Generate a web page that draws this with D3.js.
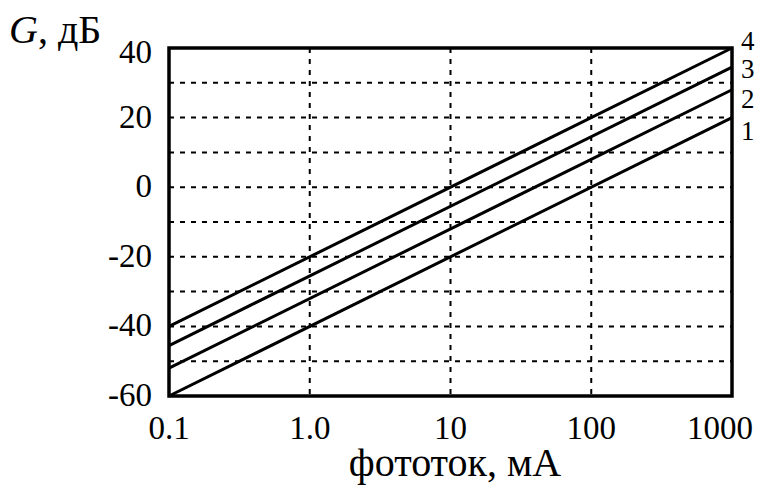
<!DOCTYPE html>
<html>
<head>
<meta charset="UTF-8">
<title>G vs photocurrent</title>
<script src="https://cdn.jsdelivr.net/npm/d3@7"></script>
<style>
body { margin: 0; background: #fff; }
text { font-family: "Liberation Serif", "DejaVu Serif", serif; fill: #000; }
</style>
</head>
<body>
<script>
// data
var xTicks = [0.1, 1, 10, 100, 1000];
var xTickLabels = ["0.1", "1.0", "10", "100", "1000"];
var yTicks = [40, 20, 0, -20, -40, -60];
var yGrid = [30, 20, 10, 0, -10, -20, -30, -40, -50];
var seriesNames = ["1", "2", "3", "4"];
var seriesX = [0.1, 1000];
var series1 = [-60, 20];
var series2 = [-52, 28];
var series3 = [-45.5, 34.5];
var series4 = [-40, 40];

var margin = { top: 48, right: 27, bottom: 91, left: 169 };
var W = 759, H = 487;
var size = { width: W - margin.left - margin.right, height: H - margin.top - margin.bottom };

var svg = d3.select("body").append("svg")
  .attr("width", W).attr("height", H);
var g = svg.append("g")
  .attr("transform", "translate(" + margin.left + "," + margin.top + ")");

var xScale = d3.scaleLog().domain([0.1, 1000]).range([0, size.width]);
var yScale = d3.scaleLinear().domain([-60, 40]).range([size.height, 0]);

// grid
g.selectAll(".hgrid").data(yGrid).enter().append("line")
  .attr("x1", 0).attr("x2", size.width)
  .attr("y1", function(d) { return yScale(d); })
  .attr("y2", function(d) { return yScale(d); })
  .attr("stroke", "#000").attr("stroke-width", 2)
  .attr("stroke-dasharray", "5,6");
g.selectAll(".vgrid").data(xTicks.slice(1, -1)).enter().append("line")
  .attr("y1", 0).attr("y2", size.height)
  .attr("x1", function(d) { return xScale(d); })
  .attr("x2", function(d) { return xScale(d); })
  .attr("stroke", "#000").attr("stroke-width", 2)
  .attr("stroke-dasharray", "5,6");

// lines
var allSeries = [series1, series2, series3, series4];
var line = d3.line()
  .x(function(d, i) { return xScale(seriesX[i]); })
  .y(function(d) { return yScale(d); });
g.selectAll(".series").data(allSeries).enter().append("path")
  .attr("d", line)
  .attr("fill", "none").attr("stroke", "#000").attr("stroke-width", 3);

// frame
g.append("rect")
  .attr("width", size.width).attr("height", size.height)
  .attr("fill", "none").attr("stroke", "#000").attr("stroke-width", 3.5);

// y labels
g.selectAll(".ylab").data(yTicks).enter().append("text")
  .attr("x", -17)
  .attr("y", function(d) { return Math.max(yScale(d), 5) + 10; })
  .attr("text-anchor", "end")
  .attr("font-size", 33)
  .text(function(d) { return d; });

// x labels
g.selectAll(".xlab").data(xTicks).enter().append("text")
  .attr("x", function(d, i) { return i === xTicks.length - 1 ? xScale(d) - 12 : xScale(d); })
  .attr("y", size.height + 43)
  .attr("text-anchor", "middle")
  .attr("font-size", 33)
  .text(function(d, i) { return xTickLabels[i]; });

// series labels
g.selectAll(".slab").data(allSeries).enter().append("text")
  .attr("x", size.width + 9)
  .attr("y", function(d, i) { return yScale(d[1]) + [22, 18, 11, 2][i]; })
  .attr("font-size", 27)
  .text(function(d, i) { return seriesNames[i]; });

// axis titles
var yt = svg.append("text").attr("x", 9).attr("y", 43).attr("font-size", 40);
yt.append("tspan").attr("font-style", "italic").text("G");
yt.append("tspan").text(", дБ");

svg.append("text")
  .attr("x", 455)
  .attr("y", 476)
  .attr("text-anchor", "middle")
  .attr("font-size", 40)
  .text("фототок, мА");
</script>
</body>
</html>
